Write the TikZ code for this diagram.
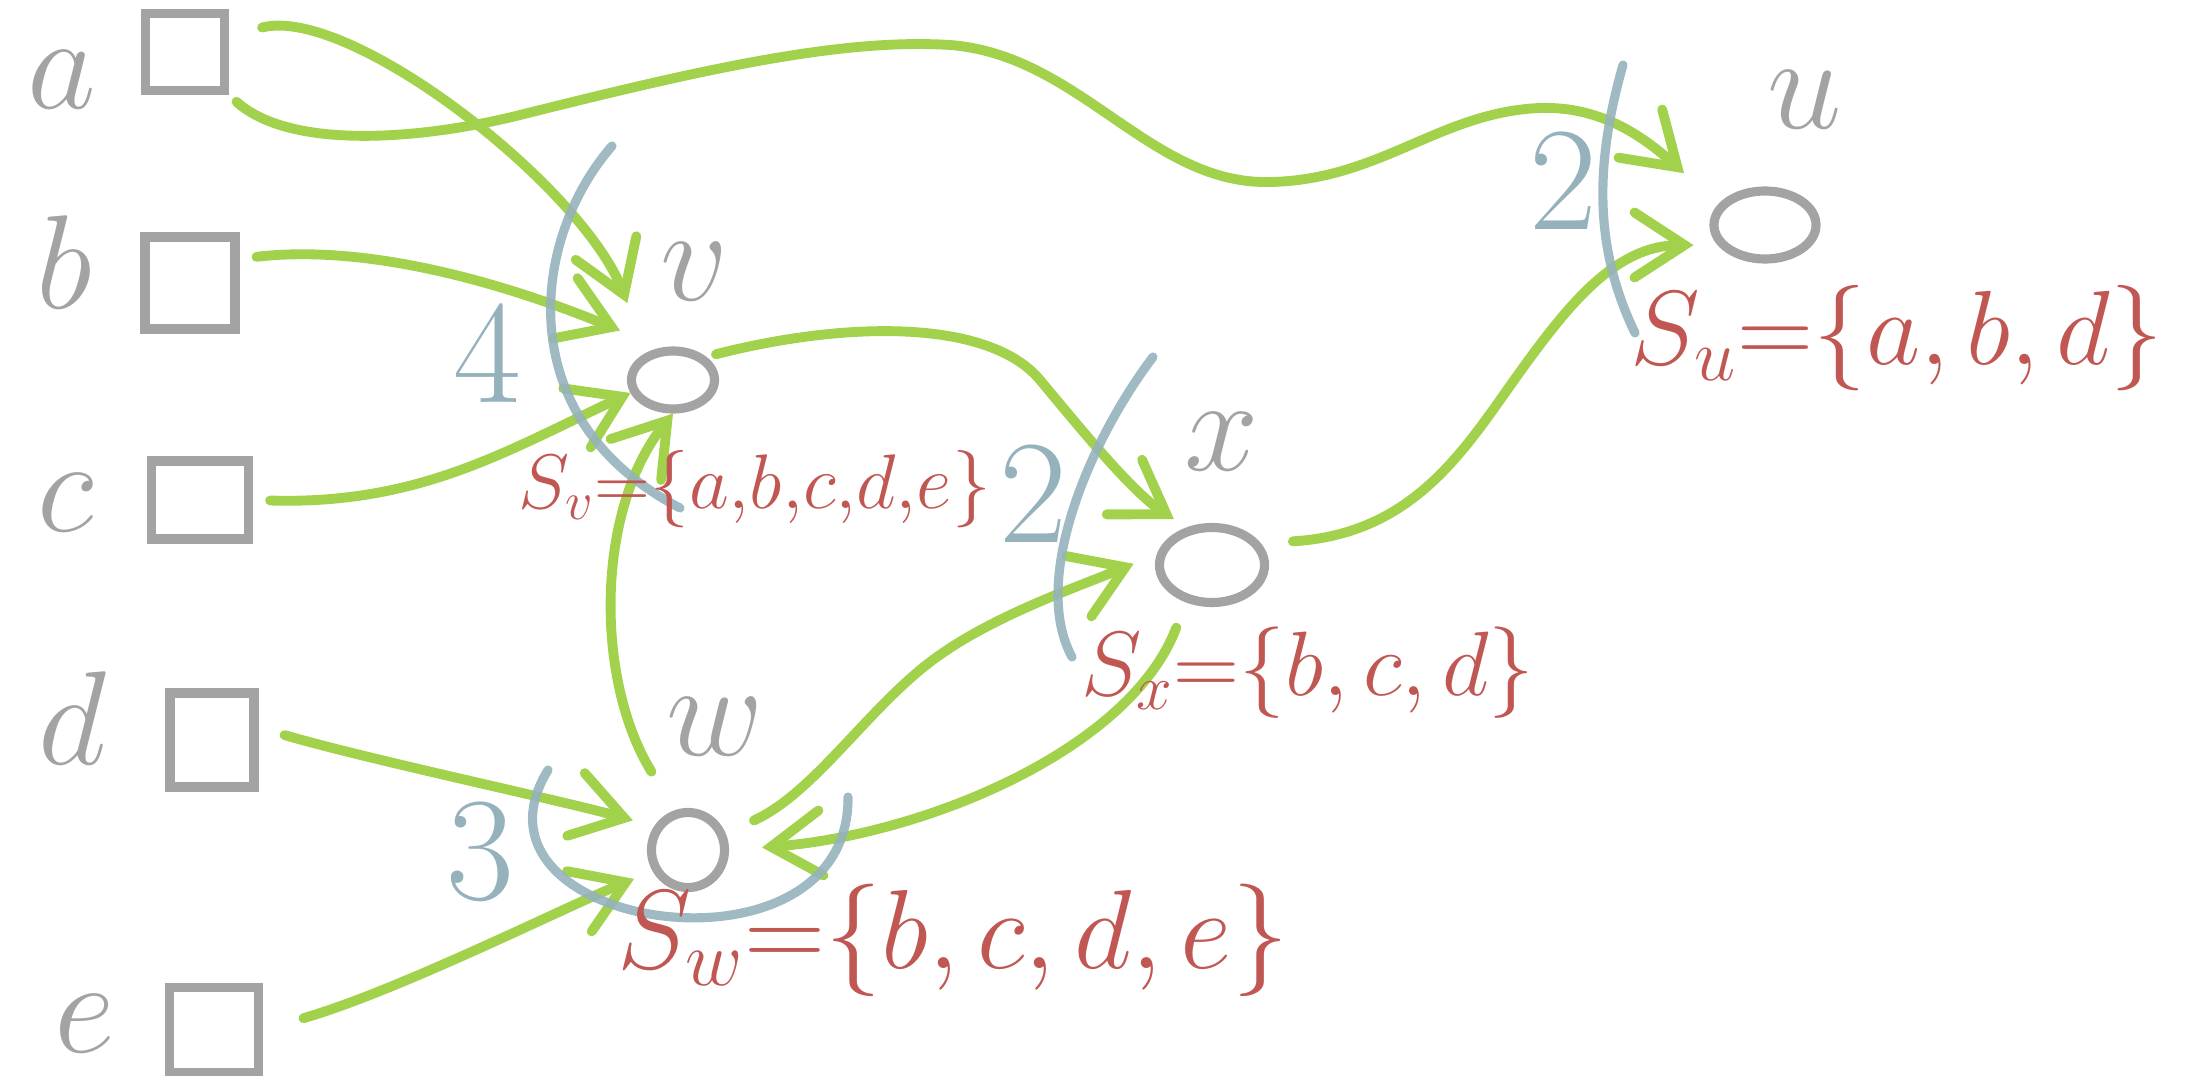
\RequirePackage{fix-cm}
\documentclass[tikz,border=0pt]{standalone}
\usepackage{amsmath}
\usepackage{tikz}
\usetikzlibrary{arrows.meta,shapes.geometric}
\definecolor{pgrey}{RGB}{163,163,163}
\definecolor{pgreen}{RGB}{162,210,76}
\definecolor{pblue}{RGB}{149,178,188}
\definecolor{pred}{RGB}{192,87,82}

\begin{document}
\begin{tikzpicture}[x=0.01cm, y=-0.01cm,
    src/.style={rectangle, draw=pgrey, line width=2.6pt, inner sep=0pt},
    vtx/.style={ellipse, draw=pgrey, line width=2.6pt, inner sep=0pt},
    lab/.style={text=pgrey, inner sep=0pt, font=\fontsize{38}{42}\selectfont},
    cnt/.style={text=pblue, inner sep=0pt, font=\fontsize{42}{46}\selectfont},
    sets/.style={text=pred, inner sep=0pt},
    link/.style={draw=pgreen, line width=2.8pt, line cap=round,
                 -{Straight Barb[length=5mm, width=6.5mm, line cap=round]}},
    cutline/.style={draw=pblue, line width=2.6pt, line cap=round, opacity=0.9}]
\useasboundingbox (0,0) rectangle (2187,1076);
\node[lab] (la) at (62,80) {$a$};
\node[lab] (lb) at (64,262) {$b$};
\node[lab] (lc) at (66,503) {$c$};
\node[lab] (ld) at (72,718) {$d$};
\node[lab] (le) at (85,1024) {$e$};
\node[src, minimum width=0.79cm, minimum height=0.77cm] (a) at (185,52) {};
\node[src, minimum width=0.90cm, minimum height=0.92cm] (b) at (190,283) {};
\node[src, minimum width=0.97cm, minimum height=0.78cm] (c) at (200,500) {};
\node[src, minimum width=0.84cm, minimum height=0.94cm] (d) at (212,740) {};
\node[src, minimum width=0.89cm, minimum height=0.85cm] (e) at (214,1030) {};
\node[vtx, minimum width=0.83cm, minimum height=0.58cm] (v) at (673,380) {};
\node[vtx, minimum width=0.73cm, minimum height=0.75cm] (w) at (688,850) {};
\node[vtx, minimum width=1.05cm, minimum height=0.75cm] (x) at (1212,565) {};
\node[vtx, minimum width=1.02cm, minimum height=0.68cm] (u) at (1765,225) {};
\node[lab] (lv) at (695,272) {$v$};
\node[lab] (lw) at (715,727) {$w$};
\node[lab] (lx) at (1222,442) {$x$};
\node[lab] (lu) at (1805,100) {$u$};
\draw[link, shorten <=3.4mm, shorten >=5.3mm] (a.20) .. controls (350,5) and (582,186) .. (v.134);
\draw[link, shorten <=1mm, shorten >=4.6mm] (a.south east) .. controls (290,150) and (420,140) .. (520,115)
    .. controls (700,70) and (840,38) .. (950,45) .. controls (1080,55) and (1150,185) .. (1270,182)
    .. controls (1380,180) and (1440,112) .. (1540,108) .. controls (1600,106) and (1643,136) .. (u.156);
\draw[link, shorten <=1.7mm, shorten >=4.5mm] (b.26) .. controls (400,240) and (572,311) .. (v.109);
\draw[link, shorten <=1.7mm] (c.east) .. controls (420,505) and (508,450) .. (v.197);
\draw[link, shorten <=1mm, shorten >=1.5mm] (v.35) .. controls (850,320) and (990,320) .. (1040,380)
    .. controls (1080,428) and (1132,492) .. (x.124);
\draw[link, shorten <=4.5mm] (w.108) .. controls (595,680) and (595,510) .. (v.south);
\draw[link, shorten <=2.7mm, shorten >=2.2mm] (d.15) .. controls (370,760) and (560,800) .. (w.145);
\draw[link, shorten <=4.2mm, shorten >=2mm] (e.east) .. controls (400,990) and (563,908) .. (w.211);
\draw[link, shorten <=3.1mm, shorten >=2.5mm] (w.24) .. controls (810,795) and (860,720) .. (920,670)
    .. controls (980,620) and (1070,590) .. (x.169);
\draw[link, shorten <=2.7mm, shorten >=3.3mm] (x.235) .. controls (1130,750) and (924,835) .. (w.east);
\draw[link, shorten <=3.2mm, shorten >=2.4mm] (x.24) .. controls (1400,535) and (1452,468) .. (1500,400)
    .. controls (1560,315) and (1610,245) .. (u.203);
\draw[cutline] (612,146) .. controls (530,240) and (510,420) .. (680,508);
\draw[cutline] (1153,357) .. controls (1090,440) and (1030,580) .. (1072,657);
\draw[cutline] (548,770) .. controls (450,930) and (850,990) .. (848,797);
\draw[cutline] (1623,65) .. controls (1590,180) and (1600,260) .. (1635,333);
\node[cnt] (nv) at (487,355) {$4$};
\node[cnt] (nw) at (480,852) {$3$};
\node[cnt] (nx) at (1033,495) {$2$};
\node[cnt] (nu) at (1563,182) {$2$};
\node[sets, font=\fontsize{22}{26}\selectfont] (sv) at (755,489) {$S_v{=}\{a{,}b{,}c{,}d{,}e\}$};
\node[sets, font=\fontsize{26}{30}\selectfont] (sx) at (1308,673) {$S_x{=}\{b,c,d\}$};
\node[sets, font=\fontsize{32}{36}\selectfont] (sw) at (953,940) {$S_w{=}\{b,c,d,e\}$};
\node[sets, font=\fontsize{30}{34}\selectfont] (su) at (1897,338) {$S_u{=}\{a,b,d\}$};
\end{tikzpicture}
\end{document}
